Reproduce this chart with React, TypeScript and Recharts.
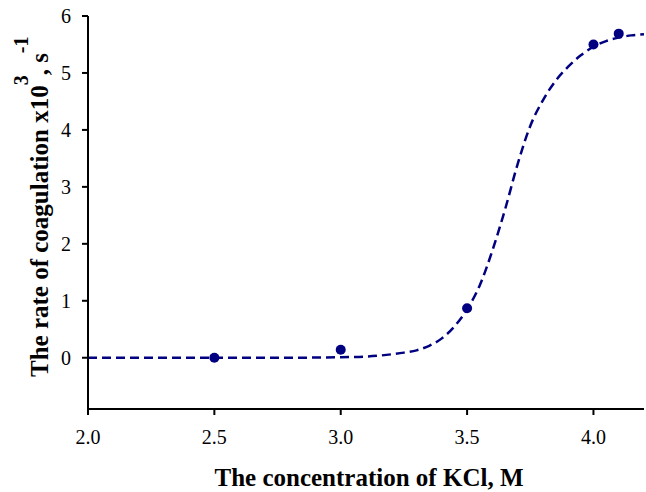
import {
  ComposedChart, Line, Scatter, XAxis, YAxis,
} from "recharts";

// measured points
const kcl = [2.5, 3.0, 3.5, 4.0, 4.1];
const rate = [0.0, 0.14, 0.87, 5.5, 5.69];

// fitted curve
const fitKcl = [2.0, 2.5, 2.8, 3.0, 3.1, 3.2, 3.25, 3.3, 3.35, 3.4, 3.45, 3.5, 3.55, 3.6, 3.65, 3.7, 3.75, 3.8, 3.85, 3.9, 3.95, 4.0, 4.05, 4.1, 4.15, 4.2];
const fitRate = [0, 0, 0, 0.01, 0.02, 0.06, 0.09, 0.13, 0.21, 0.34, 0.55, 0.85, 1.27, 1.88, 2.6, 3.4, 4.07, 4.52, 4.86, 5.11, 5.31, 5.46, 5.56, 5.62, 5.66, 5.68];

const xTicks = [2.0, 2.5, 3.0, 3.5, 4.0];
const yTicks = [0, 1, 2, 3, 4, 5, 6];

const points = kcl.map((x, i) => ({ x, y: rate[i] }));
const fit = fitKcl.map((x, i) => ({ x, y: fitRate[i] }));

const NAVY = "#000080";
const FONT = "'Liberation Serif', 'Times New Roman', serif";

const XTick = (p: any) => (
  <text x={p.x} y={p.y} dy={14} textAnchor="middle" fontFamily={FONT} fontSize={20} fill="#000">
    {Number(p.payload.value).toFixed(1)}
  </text>
);

const YTick = (p: any) => (
  <text x={p.x} y={p.y} dy={7} textAnchor="end" fontFamily={FONT} fontSize={20} fill="#000">
    {p.payload.value}
  </text>
);

const yTitle = () => (
  <text
    x={47.5}
    y={377}
    transform="rotate(-90, 47.5, 377)"
    textAnchor="start"
    fontFamily={FONT}
    fontWeight="bold"
    fontSize={25}
    fill="#000"
  >
    The rate of coagulation x10
    <tspan fontSize={20} dy={-20}>3</tspan>
    <tspan dy={20}>, s</tspan>
    <tspan fontSize={20} dy={-20}>-1</tspan>
  </text>
);

const xTitle = (props: any) => {
  const vb = props.viewBox;
  return (
    <text
      x={vb.x + vb.width / 2 + 3}
      y={486}
      textAnchor="middle"
      fontFamily={FONT}
      fontWeight="bold"
      fontSize={25}
      fill="#000"
    >
      The concentration of KCl, M
    </text>
  );
};

export default function App() {
  return (
    <div style={{ position: "absolute", left: 0, top: 0, background: "#fff" }}>
      <ComposedChart width={646} height={492} margin={{ top: 16, right: 2, bottom: 0, left: 0 }}>
        <XAxis
          type="number"
          dataKey="x"
          domain={[2, 4.2]}
          allowDataOverflow
          ticks={xTicks}
          height={83}
          stroke="#000"
          strokeWidth={2}
          tickSize={6}
          tickMargin={15}
          tick={XTick}
          label={xTitle}
        />
        <YAxis
          type="number"
          dataKey="y"
          domain={[-0.9, 6]}
          allowDataOverflow
          ticks={yTicks}
          width={88}
          stroke="#000"
          strokeWidth={2}
          tickSize={6}
          tickMargin={11}
          tick={YTick}
          label={yTitle}
        />
        <Line
          data={fit}
          dataKey="y"
          type="monotone"
          stroke={NAVY}
          strokeWidth={2.5}
          strokeDasharray="9 5"
          dot={false}
          isAnimationActive={false}
        />
        <Scatter
          data={points}
          dataKey="y"
          fill={NAVY}
          shape={(p: any) => <circle cx={p.cx} cy={p.cy} r={5} fill={NAVY} />}
          isAnimationActive={false}
        />
      </ComposedChart>
    </div>
  );
}
